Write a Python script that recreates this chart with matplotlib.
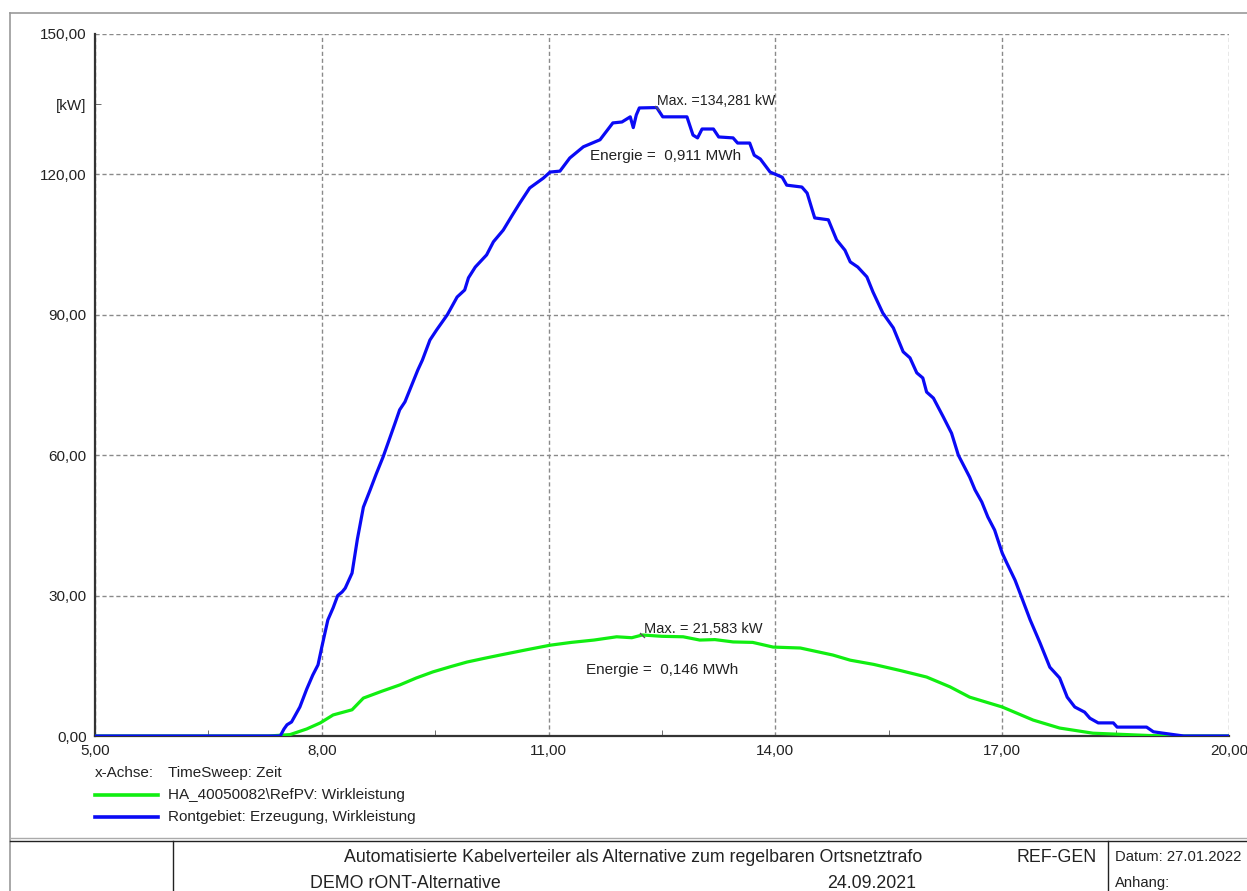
import matplotlib
matplotlib.use("Agg")
import matplotlib.pyplot as plt
from matplotlib.lines import Line2D

plt.rcParams['font.family'] = ['Liberation Sans', 'DejaVu Sans']

# ---- data ----
t_blue = [5.0, 7.45, 7.5, 7.54, 7.6, 7.71, 7.8, 7.88, 7.95, 8.0, 8.08, 8.15, 8.21, 8.27, 8.31,
          8.40, 8.47, 8.55, 8.64, 8.72, 8.81, 8.90, 8.97, 9.03, 9.10, 9.19, 9.27, 9.33, 9.43,
          9.52, 9.66, 9.79, 9.89, 9.94, 10.03, 10.18, 10.27, 10.40, 10.52, 10.62, 10.75, 10.93,
          11.02, 11.15, 11.28, 11.46, 11.68, 11.85, 11.97, 12.08, 12.12, 12.16, 12.2, 12.43,
          12.51, 12.83, 12.91, 12.97, 13.03, 13.18, 13.25, 13.44, 13.5, 13.66, 13.72, 13.8,
          13.93, 14.09, 14.15, 14.35, 14.42, 14.48, 14.52, 14.70, 14.81, 14.92, 14.99, 15.09,
          15.21, 15.29, 15.42, 15.56, 15.69, 15.78, 15.87, 15.95, 16.0, 16.09, 16.22, 16.33,
          16.42, 16.57, 16.64, 16.73, 16.81, 16.90, 17.0, 17.06, 17.17, 17.26, 17.37, 17.50,
          17.63, 17.76, 17.86, 17.96, 18.09, 18.16, 18.27, 18.47, 18.52, 18.91, 19.0, 19.13,
          19.4, 20.0]
p_blue = [0, 0, 1.5, 2.4, 3.0, 6.2, 10, 13, 15.2, 19, 24.8, 27.4, 30, 30.8, 31.6,
          34.8, 42, 48.9, 52.6, 56, 59.6, 63.7, 66.9, 69.7, 71.4, 75.0, 78.2, 80.3, 84.6,
          86.8, 90.0, 93.8, 95.3, 97.9, 100.2, 102.8, 105.6, 108.1, 111.3, 113.9, 117.1, 119.2,
          120.5, 120.7, 123.5, 125.9, 127.4, 131, 131.2, 132.3, 130, 132.7, 134.2, 134.281,
          132.3, 132.3, 128.4, 127.8, 129.7, 129.7, 128, 127.8, 126.7, 126.7, 124.1, 123.3,
          120.5, 119.4, 117.7, 117.3, 116.0, 112.8, 110.7, 110.3, 106.0, 103.8, 101.3, 100.2,
          98.1, 94.9, 90.4, 87.2, 82.1, 80.8, 77.6, 76.5, 73.5, 72.2, 68.2, 64.7,
          60.0, 55.3, 52.6, 50.0, 46.8, 44.0, 39.1, 37.0, 33.3, 29.5, 24.8, 19.9,
          14.7, 12.4, 8.3, 6.2, 5.1, 3.8, 2.8, 2.8, 1.9, 1.9, 0.9, 0.6,
          0, 0]

t_green = [5.0, 7.3, 7.58, 7.8, 7.98, 8.15, 8.4, 8.55, 8.8, 9.03, 9.25, 9.47, 9.7, 9.92, 10.15,
           10.36, 10.7, 11.02, 11.3, 11.6, 11.9, 12.1, 12.24, 12.5, 12.78, 13.0, 13.2, 13.44,
           13.7, 13.97, 14.33, 14.76, 14.99, 15.3, 15.65, 16.0, 16.31, 16.57, 17.0, 17.41,
           17.76, 18.2, 18.95, 19.3, 20.0]
p_green = [0, 0, 0.3, 1.5, 2.8, 4.5, 5.6, 8.1, 9.6, 10.9, 12.4, 13.7, 14.8, 15.8, 16.6,
           17.3, 18.4, 19.4, 20.0, 20.5, 21.2, 21.0, 21.583, 21.3, 21.2, 20.5, 20.6, 20.1,
           20.0, 19.0, 18.8, 17.3, 16.2, 15.3, 14.0, 12.6, 10.5, 8.3, 6.2, 3.4,
           1.7, 0.6, 0.1, 0, 0]

x_ticks = [5, 8, 11, 14, 17, 20]
x_labels = ["5,00", "8,00", "11,00", "14,00", "17,00", "20,00"]
y_ticks = [0, 30, 60, 90, 120, 150]
y_labels = ["0,00", "30,00", "60,00", "90,00", "120,00", "150,00"]

max_blue_label = "Max. =134,281 kW"
energy_blue_label = "Energie =  0,911 MWh"
max_green_label = "Max. = 21,583 kW"
energy_green_label = "Energie =  0,146 MWh"
name_green = "HA_40050082\\RefPV: Wirkleistung"
name_blue = "Rontgebiet: Erzeugung, Wirkleistung"

W, H = 1247, 891
fig = plt.figure(figsize=(W / 100, H / 100), dpi=100)


def fx(x):
    return x / W


def fy(y):
    return 1 - y / H


TXT = '#222222'
ax = fig.add_axes([fx(95), fy(736), fx(1229) - fx(95), fy(34) - fy(736)])
ax.set_xlim(5, 20)
ax.set_ylim(0, 150)

ax.plot(t_green, p_green, color='#11ee11', lw=2.3, zorder=3, solid_joinstyle='round')
ax.plot(t_blue, p_blue, color='#0a0af5', lw=2.3, zorder=4, solid_joinstyle='round')

ax.set_xticks(x_ticks)
ax.set_xticklabels(x_labels)
ax.set_yticks(y_ticks)
ax.set_yticklabels(y_labels)
ax.set_xticks([6.5, 9.5, 12.5, 15.5, 18.5], minor=True)
ax.set_yticks([135], minor=True)
ax.set_yticklabels(["[kW]"], minor=True)
ax.tick_params(axis='both', which='major', length=0, labelsize=11, colors=TXT, pad=6)
ax.tick_params(axis='x', which='major', pad=6)
ax.tick_params(axis='x', which='minor', direction='in', length=4, color='#555555')
ax.tick_params(axis='y', which='minor', direction='in', length=4, color='#555555',
               labelsize=11, labelcolor=TXT, pad=6)

ax.grid(True, which='major', color='#8a8a8a', linestyle=(0, (3, 2)), lw=1.0)
for s in ['top', 'right']:
    ax.spines[s].set_visible(False)
for s in ['left', 'bottom']:
    ax.spines[s].set_color('#333333')
    ax.spines[s].set_linewidth(1.6)
ax.set_axisbelow(True)

# annotations
i_b = p_blue.index(max(p_blue))
i_g = p_green.index(max(p_green))
ax.plot([t_blue[i_b]], [p_blue[i_b]], marker=(2, 0, 45), ms=5, color='#555555', zorder=5)
ax.plot([t_green[i_g]], [p_green[i_g]], marker=(2, 0, 45), ms=5, color='#555555', zorder=5)
ax.annotate(max_blue_label, (t_blue[i_b], p_blue[i_b]), xytext=(0, 1.5),
            textcoords='offset points', fontsize=10.2, color=TXT)
ax.text(11.55, 123.9, energy_blue_label, fontsize=11, color=TXT, va='center')
ax.annotate(max_green_label, (t_green[i_g], p_green[i_g]), xytext=(1, 1.5),
            textcoords='offset points', fontsize=10.5, color=TXT)
ax.text(11.5, 14.2, energy_green_label, fontsize=11, color=TXT, va='center')

# legend-like block below the axes
fig.text(fx(95), fy(773), "x-Achse:", fontsize=11, va='center', color=TXT)
fig.text(fx(168), fy(773), "TimeSweep: Zeit", fontsize=11, va='center', color=TXT)
fig.add_artist(Line2D([fx(95), fx(158)], [fy(795), fy(795)], color='#11ee11', lw=2.6))
fig.text(fx(168), fy(795), name_green, fontsize=11, va='center', color=TXT)
fig.add_artist(Line2D([fx(95), fx(158)], [fy(817), fy(817)], color='#0a0af5', lw=2.6))
fig.text(fx(168), fy(817), name_blue, fontsize=11, va='center', color=TXT)

# outer frame
fig.add_artist(Line2D([fx(10), fx(1247)], [fy(13), fy(13)], color='#999999', lw=1.2))
fig.add_artist(Line2D([fx(10), fx(10)], [fy(13), fy(891)], color='#999999', lw=1.2))

# title block
fig.add_artist(Line2D([fx(10), fx(1247)], [fy(838), fy(838)], color='#aaaaaa', lw=1.0))
fig.add_artist(Line2D([fx(10), fx(1247)], [fy(841), fy(841)], color='#222222', lw=1.0))
fig.add_artist(Line2D([fx(173), fx(173)], [fy(841), fy(891)], color='#222222', lw=1.0))
fig.add_artist(Line2D([fx(1108), fx(1108)], [fy(841), fy(891)], color='#222222', lw=1.0))
TB = 12.8
fig.text(fx(922), fy(857), "Automatisierte Kabelverteiler als Alternative zum regelbaren Ortsnetztrafo",
         fontsize=TB, ha='right', va='center', color=TXT)
fig.text(fx(1097), fy(857), "REF-GEN", fontsize=TB, ha='right', va='center', color=TXT)
fig.text(fx(1115), fy(857), "Datum: 27.01.2022", fontsize=10.6, ha='left', va='center', color=TXT)
fig.text(fx(310), fy(883), "DEMO rONT-Alternative", fontsize=TB, ha='left', va='center', color=TXT)
fig.text(fx(872), fy(883), "24.09.2021", fontsize=TB, ha='center', va='center', color=TXT)
fig.text(fx(1115), fy(883), "Anhang:", fontsize=10.6, ha='left', va='center', color=TXT)

fig.savefig("out.png", dpi=100)
